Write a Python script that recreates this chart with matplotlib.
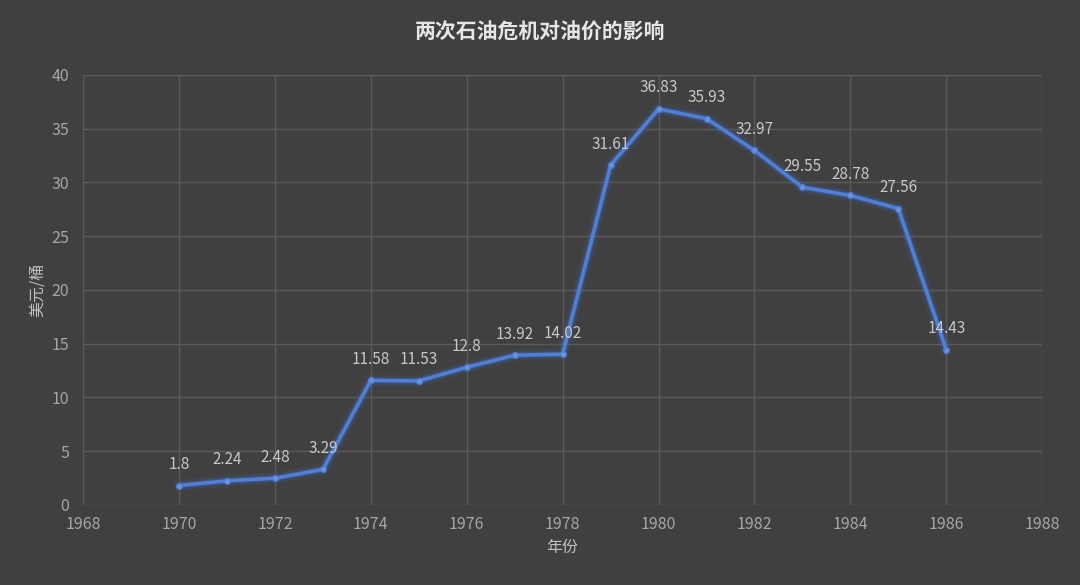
import matplotlib.pyplot as plt
from matplotlib.ticker import MultipleLocator

plt.rcParams['font.family'] = ['Noto Sans CJK SC', 'DejaVu Sans']

years = [1970, 1971, 1972, 1973, 1974, 1975, 1976, 1977, 1978, 1979,
         1980, 1981, 1982, 1983, 1984, 1985, 1986]
prices = [1.8, 2.24, 2.48, 3.29, 11.58, 11.53, 12.8, 13.92, 14.02, 31.61,
          36.83, 35.93, 32.97, 29.55, 28.78, 27.56, 14.43]
labels = ['1.8', '2.24', '2.48', '3.29', '11.58', '11.53', '12.8', '13.92', '14.02',
          '31.61', '36.83', '35.93', '32.97', '29.55', '28.78', '27.56', '14.43']

bg = '#404040'
fig = plt.figure(figsize=(10.8, 5.85), dpi=100, facecolor=bg)
ax = fig.add_axes([0.077, 0.137, 0.888, 0.735], facecolor=bg)

# glow behind the line
for w, a in [(9, 0.08), (6, 0.15), (4, 0.3)]:
    ax.plot(years, prices, color='#4472C4', linewidth=w, alpha=a, solid_capstyle='round')
ax.plot(years, prices, color='#4F7FD6', linewidth=2.5, marker='o', markersize=4,
        markerfacecolor='#6C94E0', markeredgecolor='#4F7FD6')

for x, y, t in zip(years, prices, labels):
    ax.annotate(t, (x, y), xytext=(0, 9), textcoords='offset points', ha='center',
                va='bottom', color='#C8C8C8', fontsize=11)

ax.set_xlim(1968, 1988)
ax.set_ylim(0, 40)
ax.xaxis.set_major_locator(MultipleLocator(2))
ax.yaxis.set_major_locator(MultipleLocator(5))
ax.grid(True, color='#5A5A5A', linewidth=1)
ax.set_axisbelow(True)
for s in ax.spines.values():
    s.set_visible(False)
ax.tick_params(length=0, colors='#A6A6A6', labelsize=11.5)
ax.tick_params(axis='x', pad=8)
ax.tick_params(axis='y', pad=10)

ax.set_xlabel('年份', color='#BFBFBF', fontsize=11.5)
ax.set_ylabel('美元/桶', color='#BFBFBF', fontsize=11.5)
fig.suptitle('两次石油危机对油价的影响', color='#E6E6E6', fontsize=15,
             fontweight='bold', y=0.965)

fig.savefig('out.png', dpi=100, facecolor=bg)
